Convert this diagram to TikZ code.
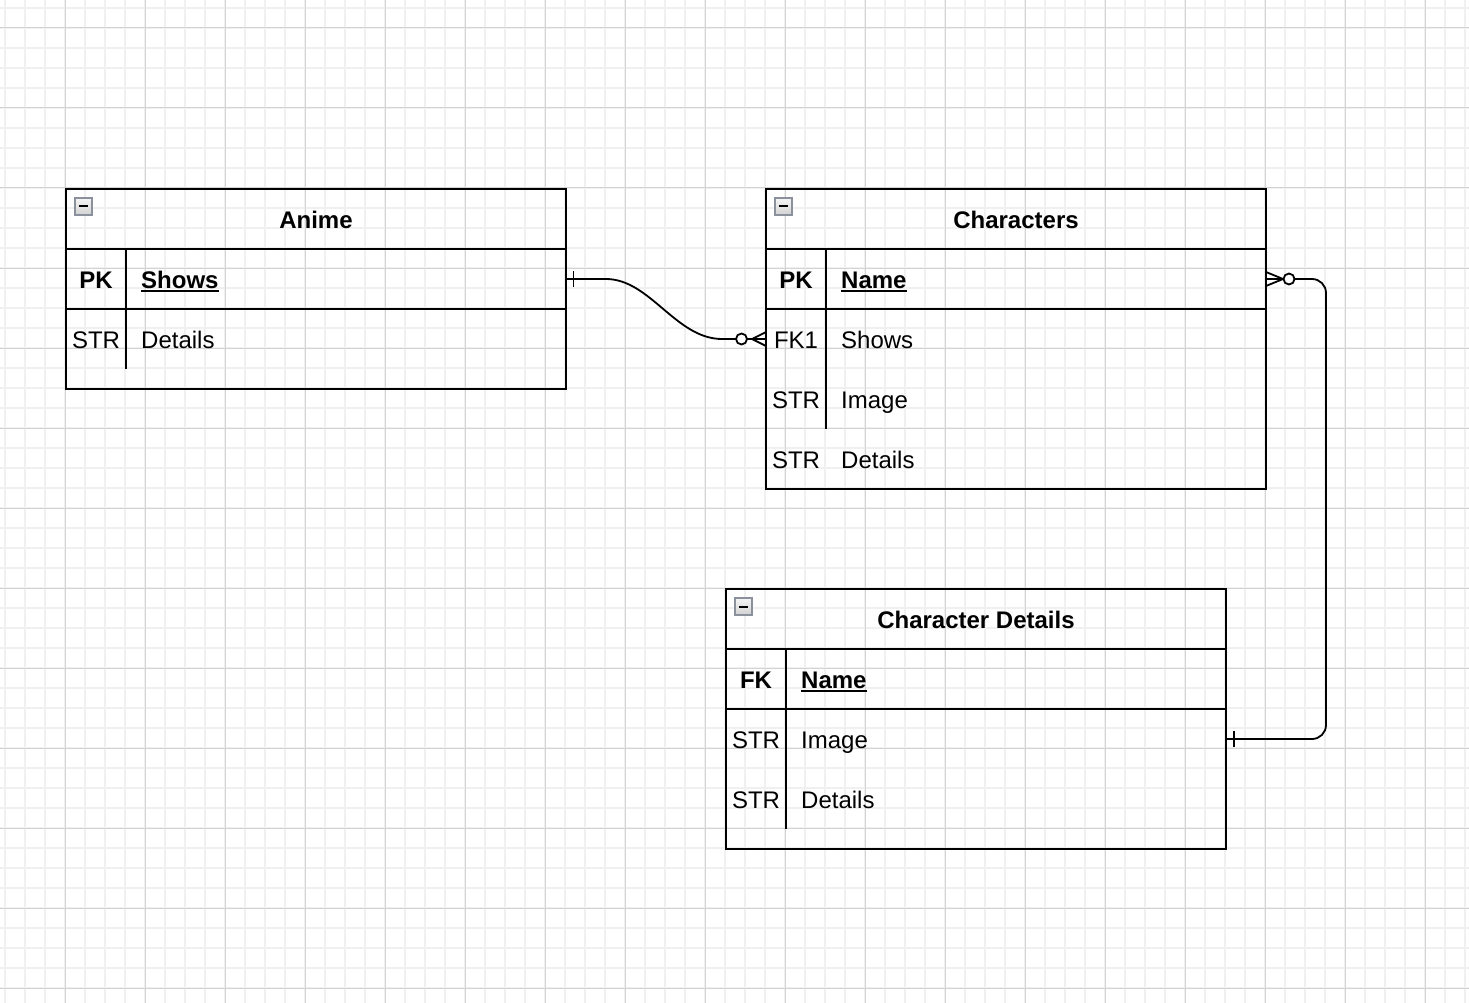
\documentclass[tikz,border=0pt]{standalone}
\usepackage{fontspec}
\setmainfont{Liberation Sans}
\definecolor{minorgrid}{HTML}{F0F0F0}
\definecolor{majorgrid}{HTML}{D3D3D3}
\definecolor{iconframe}{HTML}{8A909C}
\begin{document}
\begin{tikzpicture}[x=1pt,y=-1pt,
  minorline/.style={draw=minorgrid,line width=1.6pt},
  majorline/.style={draw=majorgrid,line width=1pt},
  tablebox/.style={draw=black,line width=2pt,outer sep=0pt,inner sep=0pt},
  sepline/.style={draw=black,line width=2pt},
  txt/.style={inner sep=0pt,font=\fontsize{24}{28}\selectfont},
  btxt/.style={inner sep=0pt,font=\fontsize{24}{28}\selectfont\bfseries},
  keytxt/.style={btxt,anchor=base},
  typetxt/.style={txt,anchor=base},
  fieldtxt/.style={txt,anchor=base west},
  keyfield/.style={btxt,anchor=base west},
  conn/.style={draw=black,line width=1.8pt},
  marker/.style={draw=black,line width=1.8pt},
  ring/.style={draw=black,fill=white,line width=1.8pt,circle,minimum size=11pt,inner sep=0pt,outer sep=0pt},
  ulinestyle/.style={draw=black,line width=2pt}]
\useasboundingbox (0,0) rectangle (1469,1003);
% grid
\foreach \x in {5,25,...,1465} \draw[minorline] (\x,0) -- (\x,1003);
\foreach \y in {8,28,...,1000} \draw[minorline] (0,\y) -- (1469,\y);
\foreach \x in {65,145,...,1465} \draw[majorline] (\x,0) -- (\x,1003);
\foreach \y in {28,108,...,1000} \draw[majorline] (0,\y) -- (1469,\y);

% collapse icons
\newcommand{\collapseicon}[2]{%
  \shade[top color=gray!8,bottom color=gray!35] (#1,#2) rectangle ++(17,17);
  \draw[iconframe,line width=1.5pt] (#1,#2) rectangle ++(17,17);
  \draw[black,line width=2pt] (#1+4,#2+8.5) -- (#1+13,#2+8.5);}

% ---------- Anime ----------
\node[tablebox,anchor=north west,minimum width=500pt,minimum height=200pt] (anime) at (66,189) {};
\draw[sepline] (66,249) -- (566,249);
\draw[sepline] (66,309) -- (566,309);
\draw[sepline] (126,249) -- (126,369);
\collapseicon{75}{198}
\node[btxt,anchor=base] (animeTitle) at (316,228) {Anime};
\node[keytxt] (animePK) at (96,288) {PK};
\node[keyfield] (animeShows) at (141,288) {Shows};
\draw[ulinestyle] ([yshift=-3pt]animeShows.base west) -- ([yshift=-3pt]animeShows.base east);
\node[typetxt] (animeSTR) at (96,348) {STR};
\node[fieldtxt] (animeDetails) at (141,348) {Details};
\coordinate (animeShowsR) at (566,279);

% ---------- Characters ----------
\node[tablebox,anchor=north west,minimum width=500pt,minimum height=300pt] (chars) at (766,189) {};
\draw[sepline] (766,249) -- (1266,249);
\draw[sepline] (766,309) -- (1266,309);
\draw[sepline] (826,249) -- (826,429);
\collapseicon{775}{198}
\node[btxt,anchor=base] (charsTitle) at (1016,228) {Characters};
\node[keytxt] (charsPK) at (796,288) {PK};
\node[keyfield] (charsName) at (841,288) {Name};
\draw[ulinestyle] ([yshift=-3pt]charsName.base west) -- ([yshift=-3pt]charsName.base east);
\node[typetxt] (charsFK) at (796,348) {FK1};
\node[fieldtxt] (charsShows) at (841,348) {Shows};
\node[typetxt] (charsSTRa) at (796,408) {STR};
\node[fieldtxt] (charsImage) at (841,408) {Image};
\node[typetxt] (charsSTRb) at (796,468) {STR};
\node[fieldtxt] (charsDetails) at (841,468) {Details};
\coordinate (charsShowsL) at (766,339);
\coordinate (charsNameR) at (1266,279);

% ---------- Character Details ----------
\node[tablebox,anchor=north west,minimum width=500pt,minimum height=260pt] (cdet) at (726,589) {};
\draw[sepline] (726,649) -- (1226,649);
\draw[sepline] (726,709) -- (1226,709);
\draw[sepline] (786,649) -- (786,829);
\collapseicon{735}{598}
\node[btxt,anchor=base] (cdetTitle) at (976,628) {Character Details};
\node[keytxt] (cdetFK) at (756,688) {FK};
\node[keyfield] (cdetName) at (801,688) {Name};
\draw[ulinestyle] ([yshift=-3pt]cdetName.base west) -- ([yshift=-3pt]cdetName.base east);
\node[typetxt] (cdetSTRa) at (756,748) {STR};
\node[fieldtxt] (cdetImage) at (801,748) {Image};
\node[typetxt] (cdetSTRb) at (756,808) {STR};
\node[fieldtxt] (cdetDetails) at (801,808) {Details};
\coordinate (cdetImageR) at (1226,739);

% ---------- connector 1: Anime.Shows (one) -> Characters.Shows (zero or many) ----------
\coordinate (c1a) at (606,279);
\coordinate (c1b) at (722,339);
\coordinate (c1ring) at (741.5,339);
\draw[conn] (animeShowsR) -- (c1a) .. controls (650,279) and (676,339) .. (c1b) -- ([xshift=-5.5pt]c1ring);
\draw[marker] (573.5,271) -- (573.5,287);
\draw[marker] ([xshift=5.5pt]c1ring) -- (charsShowsL);
\draw[marker] (752,339) -- (766,332);
\draw[marker] (752,339) -- (766,346);
\node[ring] (ring1) at (c1ring) {};

% ---------- connector 2: Characters.Name (zero or many) -> Character Details.Image (one) ----------
\coordinate (c2ring) at (1289,279);
\coordinate (c2corner1) at (1326,279);
\coordinate (c2corner2) at (1326,739);
\draw[conn,rounded corners=14pt] ([xshift=5.5pt]c2ring) -- (c2corner1) -- (c2corner2) -- (cdetImageR);
\draw[marker] (charsNameR) -- ([xshift=-5.5pt]c2ring);
\draw[marker] (1283,279) -- (1266,272);
\draw[marker] (1283,279) -- (1266,286);
\node[ring] (ring2) at (c2ring) {};
\draw[marker] (1234,731) -- (1234,747);
\end{tikzpicture}
\end{document}
